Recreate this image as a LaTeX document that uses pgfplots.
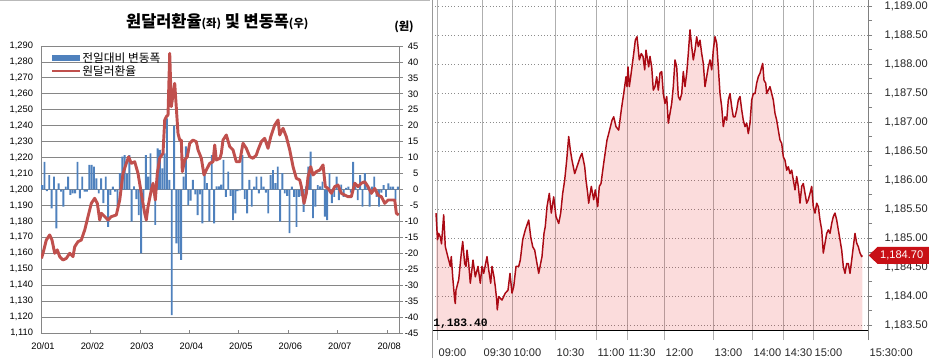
\documentclass[border=0pt]{standalone}
\usepackage{fontspec}
\usepackage{pgfplots}
\pgfplotsset{compat=1.18}
\usepackage{pgfplotstable}
\setmainfont{Liberation Sans}
\newfontfamily\kr{Noto Sans CJK KR}
\newfontfamily\mono{Liberation Mono}
\definecolor{barblue}{RGB}{79,129,189}
\definecolor{linered}{RGB}{192,80,77}
\definecolor{gridgray}{RGB}{134,134,134}
\definecolor{vgrid}{RGB}{175,175,175}
\definecolor{hgrid}{RGB}{140,140,140}
\definecolor{pricered}{RGB}{170,10,20}
\definecolor{pinkbase}{RGB}{230,40,40}
\definecolor{labelred}{RGB}{200,16,22}

\pgfplotstableread{
x d
0.5 1.4
1.5 8.7
2.5 -0.5
3.5 4.5
4.5 -5.9
5.5 4.0
6.5 -12.2
7.5 1.9
8.5 -0.7
9.5 -5.4
10.5 0.9
11.5 4.0
12.5 -1.7
13.5 -1.2
14.5 -1.2
15.5 8.7
16.5 -2.8
17.5 4.0
18.5 -0.7
19.5 -0.7
20.5 7.7
21.5 7.7
22.5 7.2
23.5 3.5
24.5 -1.2
25.5 3.5
26.5 -4.3
27.5 4.0
28.5 -11.7
29.5 -1.7
30.5 0.9
31.5 -0.7
32.5 -5.4
33.5 5.1
34.5 10.3
35.5 10.8
36.5 5.0
37.5 10.8
38.5 -10.1
39.5 1.0
40.5 -3.0
41.5 -8.0
42.5 -20.0
43.5 -3.5
44.5 10.8
45.5 4.0
46.5 11.3
47.5 0.5
48.5 -11.1
49.5 12.9
50.5 12.4
51.5 6.6
52.5 11.3
53.5 22.3
54.5 3.0
55.5 -39.4
56.5 20.0
57.5 -16.9
58.5 -20.0
59.5 -22.1
60.5 4.0
61.5 13.5
62.5 -5.0
63.5 -3.5
64.5 3.0
65.5 -1.5
66.5 -8.0
67.5 -1.5
68.5 -10.6
69.5 4.5
70.5 2.0
71.5 -10.0
72.5 10.8
73.5 -10.6
74.5 1.0
75.5 1.0
76.5 1.5
77.5 9.3
78.5 -2.3
79.5 5.6
80.5 -2.0
81.5 -9.6
82.5 -7.5
83.5 -0.5
84.5 -0.3
85.5 10.8
86.5 -3.0
87.5 -7.5
88.5 3.0
89.5 -5.4
90.5 0.9
91.5 4.0
92.5 -1.2
93.5 4.0
94.5 0.9
95.5 -1.0
96.5 -7.5
97.5 4.5
98.5 6.1
99.5 2.0
100.5 7.2
101.5 -10.1
102.5 5.1
103.5 -1.2
104.5 -2.0
105.5 -13.7
106.5 0.9
107.5 -2.3
108.5 -11.7
109.5 -2.3
110.5 -2.0
111.5 -7.0
112.5 1.0
113.5 7.2
114.5 11.9
115.5 -9.0
116.5 -5.4
117.5 1.4
118.5 1.0
119.5 2.5
120.5 -8.5
121.5 -9.6
122.5 5.1
123.5 -4.3
124.5 -2.3
125.5 4.0
126.5 -3.3
127.5 1.5
128.5 -2.3
129.5 0.5
130.5 0.9
131.5 -1.0
132.5 8.7
133.5 1.0
134.5 -3.3
135.5 4.5
136.5 -5.4
137.5 5.1
138.5 1.0
139.5 -5.4
140.5 0.9
141.5 4.0
142.5 -2.3
143.5 -5.4
144.5 -1.0
145.5 1.4
146.5 -2.3
147.5 1.9
148.5 0.9
149.5 0.9
150.5 -3.3
151.5 0.9
}\bars

\pgfplotstableread{
x r
0.2 1156.8
0.85 1160.0
2.25 1168.3
3.69 1171.5
4.67 1168.3
5.82 1160.0
6.92 1162.1
7.94 1157.9
9.34 1155.8
10.74 1156.8
12.19 1160.0
13.59 1157.9
14.31 1164.1
15.71 1167.3
17.11 1168.3
18.56 1174.6
19.96 1183.0
21.36 1191.3
22.80 1194.5
23.91 1191.3
24.93 1180.9
25.61 1185.1
27.05 1183.0
28.45 1180.9
29.85 1183.0
31.97 1184.0
33.42 1193.4
34.82 1210.1
36.22 1216.4
37.2 1220.5
38.34 1216.4
39.79 1217.4
41.19 1210.1
42.59 1197.6
44.03 1185.1
44.71 1180.9
45.44 1189.2
46.84 1199.7
47.56 1203.9
48.54 1193.4
49.38 1210.1
50.40 1219.6
51.80 1222.7
52.53 1243.6
53.21 1245.7
53.93 1246.7
54.65 1285.4
55.33 1252.0
56.77 1266.6
58.17 1235.2
58.90 1231.0
59.58 1231.0
60.00 1211.2
61.02 1218.5
62.12 1220.6
63.14 1229.0
64.54 1231.0
65.94 1230.0
66.67 1224.8
68.07 1219.6
69.21 1209.1
70.19 1212.2
71.63 1216.4
73.04 1217.4
73.76 1227.9
74.44 1218.5
76.01 1219.6
76.56 1222.7
77.28 1231.0
78.68 1234.2
80.13 1226.9
81.53 1224.8
82.93 1217.4
84.37 1217.4
85.77 1229.0
87.18 1225.8
88.62 1220.6
90.02 1219.6
91.42 1221.6
92.14 1224.8
93.55 1230.0
94.99 1232.1
96.39 1225.8
97.54 1233.1
99.24 1240.5
100.64 1243.6
101.36 1234.2
102.76 1238.4
104.16 1233.1
105.61 1224.8
107.01 1214.3
108.41 1207.0
109.85 1206.0
110.53 1201.8
111.68 1191.3
112.65 1197.6
113.38 1208.0
114.52 1214.3
115.50 1209.1
116.90 1211.2
118.34 1212.2
119.75 1215.4
120.72 1201.8
121.87 1200.7
123.27 1197.6
124.71 1201.8
126.11 1202.8
127.52 1197.6
128.96 1196.5
130.36 1195.5
131.76 1195.5
133.21 1203.9
134.61 1201.8
136.01 1203.9
137.45 1204.9
138.85 1201.8
140.25 1197.6
141.70 1200.7
143.10 1196.5
144.50 1195.5
145.95 1191.3
147.35 1193.4
148.75 1193.4
150.19 1193.4
150.87 1185.1
151.89 1184.0
}\rate

\pgfplotstableread{
x v
436.0 1185.43
437.5 1184.97
438.7 1185.08
440.3 1185.02
441.5 1184.90
443.7 1185.40
445.3 1184.85
448.7 1184.62
450.3 1184.51
451.3 1184.68
452.7 1184.33
454.7 1183.93
455.3 1183.87
456.0 1184.10
458.7 1184.28
461.3 1184.74
462.7 1184.94
464.7 1184.56
466.0 1184.51
467.0 1184.79
468.7 1184.56
470.3 1184.22
473.0 1184.62
475.3 1184.33
478.0 1184.51
480.3 1184.22
482.0 1184.51
483.7 1184.39
487.0 1184.68
488.7 1184.45
490.7 1184.22
492.0 1184.51
494.0 1184.33
495.3 1184.16
496.7 1183.93
497.3 1183.76
498.7 1183.99
502.0 1183.93
505.3 1184.05
508.0 1184.10
510.0 1184.39
512.0 1184.05
513.7 1184.16
516.0 1184.51
518.7 1184.51
520.3 1184.62
522.7 1184.97
525.3 1185.14
528.7 1185.31
530.7 1185.02
532.7 1184.85
534.7 1184.79
537.0 1184.56
538.7 1184.39
542.0 1184.68
544.0 1185.08
545.3 1185.20
547.0 1185.54
549.3 1185.77
551.3 1185.43
553.7 1185.71
556.0 1185.37
558.7 1185.25
560.7 1185.43
562.7 1185.77
564.7 1186.00
566.7 1186.34
568.7 1186.75
570.3 1186.52
572.0 1186.34
574.7 1186.11
577.0 1186.23
580.3 1186.40
582.0 1186.46
584.7 1186.23
586.0 1186.00
587.7 1185.77
588.7 1185.60
591.3 1185.89
593.7 1185.66
595.3 1185.83
597.7 1185.54
599.3 1185.89
601.0 1185.94
603.7 1186.29
607.0 1186.69
608.7 1186.80
612.0 1187.03
613.7 1187.09
616.0 1186.92
618.7 1186.86
621.3 1187.21
623.7 1187.49
626.0 1187.78
627.0 1187.61
628.0 1187.95
629.3 1187.61
630.7 1187.78
633.7 1188.18
635.3 1188.41
637.0 1188.47
638.0 1188.30
639.3 1188.07
641.3 1188.18
643.0 1188.13
644.7 1187.90
646.0 1188.24
648.7 1187.95
650.0 1188.13
651.7 1187.95
653.3 1187.55
655.0 1187.61
656.7 1187.78
658.3 1187.55
660.0 1187.84
661.7 1187.87
663.3 1187.49
665.0 1187.32
666.7 1187.44
668.3 1186.98
670.0 1187.15
671.7 1187.32
673.3 1187.61
675.0 1188.07
676.7 1187.95
678.3 1187.44
680.0 1187.38
681.7 1187.49
683.3 1187.87
685.0 1187.61
686.7 1187.84
688.3 1188.18
690.0 1188.59
691.7 1188.30
693.3 1188.07
695.0 1188.24
696.7 1188.47
698.3 1188.30
700.0 1188.41
701.7 1188.18
703.3 1188.01
705.0 1187.61
706.7 1187.78
708.3 1187.95
710.0 1188.07
711.7 1187.90
713.3 1188.24
715.0 1188.47
716.7 1188.36
718.3 1187.95
720.0 1187.49
721.7 1187.26
723.3 1186.92
725.0 1187.09
726.7 1187.03
728.3 1187.38
730.0 1187.49
731.7 1187.26
733.3 1187.09
735.0 1187.09
736.7 1187.21
738.3 1187.38
740.0 1187.44
741.7 1187.21
743.3 1187.03
745.0 1186.92
746.7 1186.98
748.3 1186.80
750.0 1186.98
751.7 1187.38
753.3 1187.49
755.0 1187.49
756.7 1187.67
758.3 1187.78
760.0 1187.84
761.7 1187.95
762.7 1188.01
764.0 1187.72
765.7 1187.67
766.7 1187.49
768.3 1187.55
770.0 1187.61
771.7 1187.49
773.3 1187.38
775.0 1187.15
776.7 1187.03
778.3 1186.86
780.0 1186.69
781.7 1186.63
783.3 1186.40
785.0 1186.34
786.7 1186.17
788.3 1186.23
790.0 1186.11
791.7 1186.17
793.3 1186.00
795.0 1185.83
796.7 1186.06
798.3 1185.89
800.0 1185.60
801.7 1185.89
803.3 1185.94
805.0 1185.77
806.7 1185.60
808.3 1185.66
810.0 1185.77
811.7 1185.89
813.3 1185.54
815.0 1185.43
816.7 1185.60
818.3 1185.54
820.0 1185.31
821.7 1185.14
823.3 1184.74
825.0 1184.91
826.7 1185.08
828.3 1185.14
830.0 1185.08
831.7 1185.25
833.3 1185.37
835.0 1185.43
836.7 1185.31
838.3 1185.14
840.0 1184.97
841.7 1184.79
843.3 1184.51
845.0 1184.39
846.7 1184.56
848.3 1184.56
850.0 1184.39
851.7 1184.62
853.3 1184.85
855.0 1185.08
856.7 1184.91
858.3 1184.85
860.0 1184.74
861.7 1184.68
862.3 1184.70
}\price

\begin{document}
\begin{tikzpicture}
\useasboundingbox (0,0) rectangle (696.75pt,268.5pt);
% ---------- left panel ----------
\draw[gray!55, line width=0.6pt] (0,268pt) -- (322.5pt,268pt);
\begin{axis}[at={(30.75pt,18.75pt)}, anchor=south west, scale only axis,
  width=268.5pt, height=215.25pt,
  xmin=0, xmax=152, ymin=1110, ymax=1290,
  axis x line*=bottom, axis y line*=left,
  axis line style={gridgray, line width=0.6pt},
  ymajorgrids, y grid style={gridgray, line width=0.6pt},
  ytick={1110,1120,...,1290},
  xtick={0,21,...,147},
  xticklabels={20/01,20/02,20/03,20/04,20/05,20/06,20/07,20/08},
  xtick align=inside, ytick align=outside, major tick length=2.5pt,
  xtick style={gridgray, line width=0.6pt}, ytick style={draw=none},
  tick label style={font=\fontsize{7}{8}\selectfont},
  xticklabel style={yshift=-3.5pt, xshift=1.5pt},
  yticklabel style={/pgf/number format/.cd, 1000 sep={,}, assume math mode=true},
]
\addplot[draw=none] coordinates {(0,1200)};
\end{axis}
\begin{axis}[at={(30.75pt,18.75pt)}, anchor=south west, scale only axis,
  width=268.5pt, height=215.25pt,
  xmin=0, xmax=152, ymin=-45, ymax=45,
  axis x line=none, axis y line*=right,
  axis line style={gridgray, line width=0.6pt},
  ytick={-45,-40,...,45},
  tick align=outside, major tick length=3pt,
  ytick style={gridgray, line width=0.6pt},
  tick label style={font=\fontsize{7}{8}\selectfont},
  yticklabel style={anchor=east, xshift=15pt, /pgf/number format/assume math mode=true},
]
\addplot[ybar, bar width=0.8, fill=barblue, draw=none] table[x=x,y=d] {\bars};
\end{axis}
\begin{axis}[at={(30.75pt,18.75pt)}, anchor=south west, scale only axis,
  width=268.5pt, height=215.25pt,
  xmin=0, xmax=152, ymin=1110, ymax=1290, hide axis]
\addplot[linered, line width=2.2pt, line join=round] table[x=x,y=r] {\rate};
\end{axis}
\node[font=\kr\bfseries\fontsize{12.3}{14}\selectfont] at (163pt,252pt)
  {원달러환율{\fontsize{8.5}{10}\selectfont(좌)} 및 변동폭{\fontsize{8.5}{10}\selectfont(우)}};
\node[font=\kr\bfseries\fontsize{8.5}{10}\selectfont] at (303pt,248pt) {(원)};
\fill[barblue] (39pt,222.75pt) rectangle (60pt,227.25pt);
\node[anchor=west, font=\kr\fontsize{8.8}{10}\selectfont, inner sep=0pt] at (61.5pt,225pt) {전일대비 변동폭};
\draw[linered, line width=2.2pt] (39pt,215.25pt) -- (60pt,215.25pt);
\node[anchor=west, font=\kr\fontsize{8.8}{10}\selectfont, inner sep=0pt] at (61.5pt,215.25pt) {원달러환율};
% ---------- right panel ----------
\begin{axis}[at={(324pt,13.5pt)}, anchor=south west, scale only axis,
  width=327pt, height=255pt,
  xmin=432, xmax=868, ymin=1183.2414, ymax=1189.1034,
  axis x line*=bottom, axis y line*=right,
  x axis line style={draw=none},
  y axis line style={draw=gray, line width=0.75pt},
  xtick={437,482,512,555,596,627,664,713,752,783,813,868},
  xticklabels={09:00,09:30,10:00,10:30,11:00,11:30,12:00,13:00,14:00,14:30,15:00,15:30:00},
  xtick style={draw=none},
  xmajorgrids, x grid style={vgrid, line width=0.75pt},
  ymajorgrids, y grid style={hgrid, dotted, line width=0.6pt},
  ytick={1183.5,1184,1184.5,1185,1185.5,1186,1186.5,1187,1187.5,1188,1188.5,1189},
  yticklabels={{1,183.50},{1,184.00},{1,184.50},{1,185.00},{1,185.50},{1,186.00},{1,186.50},{1,187.00},{1,187.50},{1,188.00},{1,188.50},{1,189.00}},
  minor ytick={1183.75,1184.25,1184.75,1185.25,1185.75,1186.25,1186.75,1187.25,1187.75,1188.25,1188.75},
  tick align=outside, major tick length=3pt, minor tick length=3pt,
  ytick style={gray, line width=0.6pt},
  tick label style={font=\fontsize{8.3}{10}\selectfont, text=black!85},
  xticklabel style={anchor=north west, inner sep=0pt, xshift=1pt, yshift=-3.5pt},
  yticklabel style={xshift=6pt},
]
\addplot[fill=pinkbase, fill opacity=0.16, draw=none, forget plot] table[x=x,y=v] {\price} -- (axis cs:862.3,1183.40) -- (axis cs:436,1183.40) -- cycle;
\addplot[pricered, line width=1.1pt, line join=round] table[x=x,y=v] {\price};
\addplot[black, line width=0.9pt] coordinates {(432,1183.40) (868,1183.40)};
\node[anchor=south west, font=\mono\bfseries\fontsize{8.5}{10}\selectfont, inner sep=0pt] at (axis cs:433,1183.43) {1,183.40};
\coordinate (tip) at (axis cs:868.6,1184.70);
\end{axis}
\draw[gray!80, line width=0.75pt] (324pt,0) -- (324pt,268.5pt);
\fill[labelred] (tip) -- ++(6.75pt,6.4pt) -- ++(38.5pt,0) -- ++(0,-12.8pt) -- ++(-38.5pt,0) -- cycle;
\node[anchor=west, text=white, font=\fontsize{8.3}{10}\selectfont, inner sep=0pt] at ([xshift=8.5pt]tip) {1,184.70};
\end{tikzpicture}
\end{document}
